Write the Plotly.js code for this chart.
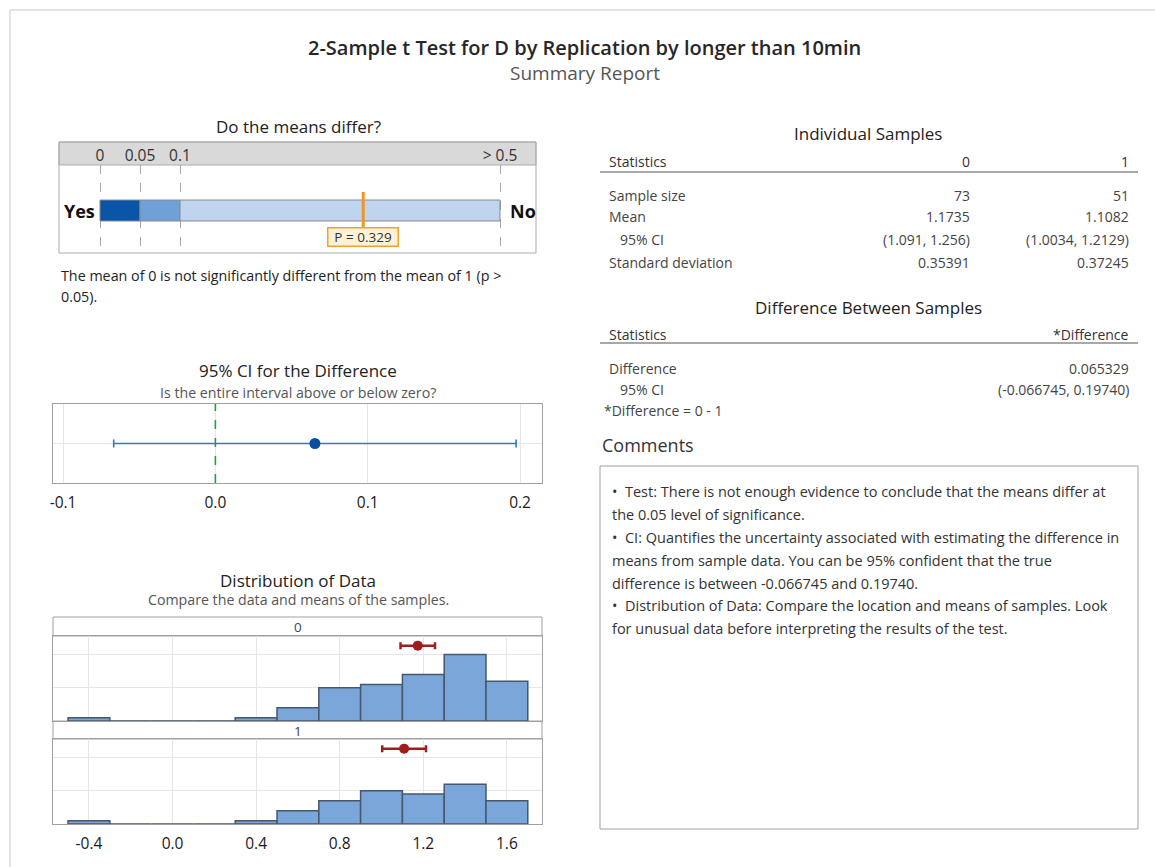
<!DOCTYPE html>
<html>
<head>
<meta charset="utf-8">
<script src="https://cdn.plot.ly/plotly-3.0.1.min.js"></script>
<style>html,body{margin:0;padding:0;background:#fff;}#chart{width:1155px;height:867px;}</style>
</head>
<body>
<div id="chart"></div>
<script>
// ---------------- data ----------------
const pBreaks = [0, 0.05, 0.1, 0.5];
const pTickLabels = ['0', '0.05', '0.1', '> 0.5'];
const pValue = 0.329;

const sampleNames = ['0', '1'];
const sampleSizes = [73, 51];
const sampleMeans = [1.1735, 1.1082];
const ciLower = [1.091, 1.0034];
const ciUpper = [1.256, 1.2129];
const stdDevs = [0.35391, 0.37245];

const meanDiff = 0.065329;
const diffCI = [-0.066745, 0.19740];
const nullDiff = 0;
const ciTicks = [-0.1, 0.0, 0.1, 0.2];

const binCenters = [-0.4, -0.2, 0.0, 0.2, 0.4, 0.6, 0.8, 1.0, 1.2, 1.4, 1.6];
const counts0 = [1, 0, 0, 0, 1, 4, 10, 11, 14, 20, 12];
const counts1 = [1, 0, 0, 0, 1, 4, 7, 10, 9, 12, 7];
const binWidth = 0.2;
const distTicks = [-0.4, 0.0, 0.4, 0.8, 1.2, 1.6];

// ---------------- helpers ----------------
const W = 1155, H = 867;
const X = v => v / W;
const Y = v => 1 - v / H;
const FONT = '"Open Sans", "Noto Sans", sans-serif';
const annotations = [];
function ann(text, x, y, o) {
  o = o || {};
  annotations.push({
    text: text, xref: 'paper', yref: 'paper', x: X(x), y: Y(y),
    xanchor: o.xa || 'center', yanchor: 'middle', showarrow: false,
    font: {family: FONT, size: o.size || 14, color: o.color || '#333', weight: o.weight || 400}
  });
}
const shapes = [];
function rect(x0, y0, x1, y1, line, fill, w) {
  shapes.push({type: 'rect', xref: 'paper', yref: 'paper', x0: X(x0), x1: X(x1), y0: Y(y1), y1: Y(y0),
    line: {color: line, width: w || 1}, fillcolor: fill || 'rgba(0,0,0,0)', layer: 'below'});
}
function hline(x0, x1, y, color, w) {
  shapes.push({type: 'line', xref: 'paper', yref: 'paper', x0: X(x0), x1: X(x1), y0: Y(y), y1: Y(y),
    line: {color: color, width: w || 1}});
}
function vline(x, y0, y1, color, w) {
  shapes.push({type: 'line', xref: 'paper', yref: 'paper', x0: X(x), x1: X(x), y0: Y(y0), y1: Y(y1),
    line: {color: color, width: w || 1}});
}

const T_TITLE = 17, T_SUB = 14.2, T_BODY = 14.3, T_TAB = 14;

// ---------------- titles ----------------
ann('2-Sample t Test for D by Replication by longer than 10min', 585, 47, {size: 20, color: '#262626', weight: 600});
ann('Summary Report', 585, 73, {size: 19, color: '#555'});

// outer faint border
hline(10, 1155, 10, '#E4E4E4', 2);
vline(10, 10, 867, '#E4E4E4', 2);

// ---------------- panel 1: do the means differ ----------------
ann('Do the means differ?', 298, 127, {size: T_TITLE, color: '#222'});
rect(59, 142, 536, 165, '#ABABAB', '#D9D9D9');
rect(59, 142, 536, 253, '#ABABAB');
ann('<b>Yes</b>', 97, 211, {size: 18, xa: 'right', color: '#111'});
ann('<b>No</b>', 508, 211, {size: 18, xa: 'left', color: '#111'});
ann('The mean of 0 is not significantly different from the mean of 1 (p &gt;', 59, 275, {xa: 'left', size: T_BODY, color: '#222'});
ann('0.05).', 59, 297, {xa: 'left', size: T_BODY, color: '#222'});

const pBar = {
  type: 'bar', orientation: 'h', xaxis: 'x', yaxis: 'y',
  y: pBreaks.slice(0, 3).map(() => 0),
  base: pBreaks.slice(0, 3),
  x: pBreaks.slice(1).map((v, i) => v - pBreaks[i]),
  width: 1,
  marker: {color: ['#0B55A8', '#6FA0D8', '#BED4EF'], line: {color: '#8A8A8A', width: 1}},
  hoverinfo: 'skip', showlegend: false
};
shapes.push({type: 'line', xref: 'x', yref: 'y', x0: pValue, x1: pValue, y0: -0.8, y1: 0.88,
  line: {color: '#F0961E', width: 3}});
annotations.push({
  text: 'P = ' + pValue.toFixed(3), xref: 'x', yref: 'paper', x: pValue, y: Y(236.5),
  xanchor: 'center', yanchor: 'middle', showarrow: false, width: 69, height: 17,
  bgcolor: '#FFF1D6', bordercolor: '#F0A030', borderwidth: 1.5, borderpad: 0,
  font: {family: FONT, size: 13.5, color: '#333'}
});

// ---------------- panel 2: CI for difference ----------------
ann('95% CI for the Difference', 298, 370, {size: T_TITLE, color: '#222'});
ann('Is the entire interval above or below zero?', 298, 392, {size: T_SUB, color: '#555'});

const ciTrace = {
  type: 'scatter', mode: 'markers', xaxis: 'x2', yaxis: 'y2',
  x: [meanDiff], y: [0],
  error_x: {type: 'data', symmetric: false, array: [diffCI[1] - meanDiff], arrayminus: [meanDiff - diffCI[0]],
    color: '#3477C5', thickness: 1.6, width: 4},
  marker: {size: 11, color: '#0A4EA3'}, hoverinfo: 'skip', showlegend: false
};
const nullTrace = {
  type: 'scatter', mode: 'lines', xaxis: 'x2', yaxis: 'y2',
  x: [nullDiff, nullDiff], y: [-1, 1],
  line: {color: '#1E9E46', width: 1.6, dash: 'dash'}, hoverinfo: 'skip', showlegend: false
};

// ---------------- panel 3: distribution ----------------
ann('Distribution of Data', 298, 580, {size: T_TITLE, color: '#222'});
ann('Compare the data and means of the samples.', 298, 599, {size: T_SUB, color: '#555'});
rect(53, 617, 542, 636, '#A0A0A0', '#FFFFFF');
rect(53, 721, 542, 739, '#A0A0A0', '#FFFFFF');
ann(sampleNames[0], 298, 627, {size: 13.5, color: '#444'});
ann(sampleNames[1], 298, 731, {size: 13.5, color: '#444'});

const meanMarkY = 22.7;
function histTrace(counts, ax, ay) {
  return {type: 'bar', xaxis: ax, yaxis: ay, x: binCenters, y: counts, width: binWidth,
    marker: {color: '#7BA6DA', line: {color: '#47576C', width: 1.5}}, hoverinfo: 'skip', showlegend: false};
}
function meanTrace(i, ax, ay) {
  return {type: 'scatter', mode: 'markers', xaxis: ax, yaxis: ay, x: [sampleMeans[i]], y: [meanMarkY],
    error_x: {type: 'data', symmetric: false, array: [ciUpper[i] - sampleMeans[i]], arrayminus: [sampleMeans[i] - ciLower[i]],
      color: '#A11C1C', thickness: 2.5, width: 3.5},
    marker: {size: 10, color: '#A11C1C'}, hoverinfo: 'skip', showlegend: false};
}

// ---------------- tables ----------------
const TC = '#444';
ann('Individual Samples', 868, 133, {size: T_TITLE, color: '#222'});
ann('Statistics', 607, 161, {xa: 'left', size: T_TAB, color: '#333'});
ann(sampleNames[0], 972, 161, {xa: 'right', size: T_TAB, color: '#333'});
ann(sampleNames[1], 1131, 161, {xa: 'right', size: T_TAB, color: '#333'});
hline(600, 1138, 172, '#A8A8A8', 2);
const rowLabels = ['Sample size', 'Mean', '&nbsp;&nbsp;&nbsp;95% CI', 'Standard deviation'];
const rowY = [195, 216, 239, 262];
const colX = [972, 1131];
rowLabels.forEach((t, r) => ann(t, 607, rowY[r], {xa: 'left', size: T_TAB, color: TC}));
for (let i = 0; i < 2; i++) {
  ann(String(sampleSizes[i]), colX[i], rowY[0], {xa: 'right', size: T_TAB, color: TC});
  ann(String(sampleMeans[i]), colX[i], rowY[1], {xa: 'right', size: T_TAB, color: TC});
  ann('(' + ciLower[i] + ', ' + ciUpper[i] + ')', colX[i], rowY[2], {xa: 'right', size: T_TAB, color: TC});
  ann(String(stdDevs[i]), colX[i], rowY[3], {xa: 'right', size: T_TAB, color: TC});
}
const diffHiTxt = diffCI[1].toFixed(5);
ann('Difference Between Samples', 868, 308, {size: T_TITLE, color: '#222'});
ann('Statistics', 607, 334, {xa: 'left', size: T_TAB, color: '#333'});
ann('*Difference', 1131, 334, {xa: 'right', size: T_TAB, color: '#333'});
hline(600, 1138, 343, '#A8A8A8', 2);
ann('Difference', 607, 368, {xa: 'left', size: T_TAB, color: TC});
ann(String(meanDiff), 1131, 368, {xa: 'right', size: T_TAB, color: TC});
ann('&nbsp;&nbsp;&nbsp;95% CI', 607, 389, {xa: 'left', size: T_TAB, color: TC});
ann('(' + diffCI[0] + ', ' + diffHiTxt + ')', 1131, 389, {xa: 'right', size: T_TAB, color: TC});
ann('*Difference = ' + sampleNames[0] + ' - ' + sampleNames[1], 602, 411, {xa: 'left', size: T_TAB, color: TC});

ann('Comments', 600, 445, {xa: 'left', size: 18, color: '#333'});
rect(600, 466, 1138, 829, '#A0A0A0');
const commentLines = [
  '•  Test: There is not enough evidence to conclude that the means differ at',
  'the 0.05 level of significance.',
  '•  CI: Quantifies the uncertainty associated with estimating the difference in',
  'means from sample data. You can be 95% confident that the true',
  'difference is between ' + diffCI[0] + ' and ' + diffHiTxt + '.',
  '•  Distribution of Data: Compare the location and means of samples. Look',
  'for unusual data before interpreting the results of the test.'
];
const commentY = [491, 514, 537, 560, 583, 605, 628];
commentLines.forEach((t, i) => ann(t, 610, commentY[i], {xa: 'left', size: 14.5, color: '#333'}));

// ---------------- layout ----------------
const gridC = '#E6E6E6', frameC = '#A0A0A0';
const distRange = [-0.572, 1.768];
const tickF = {family: FONT, size: 15.5, color: '#1A1A1A'};
const layout = {
  width: W, height: H, margin: {l: 0, r: 0, t: 0, b: 0},
  paper_bgcolor: '#FFFFFF', plot_bgcolor: 'rgba(0,0,0,0)',
  showlegend: false, bargap: 0,
  font: {family: FONT, color: '#333'},
  xaxis: {domain: [X(59), X(536)], range: [(59 - 100) / 800, (536 - 100) / 800], anchor: 'y', side: 'top',
    tickmode: 'array', tickvals: pBreaks, ticktext: pTickLabels, ticks: '', showline: false, zeroline: false,
    showgrid: true, gridcolor: '#A8A8A8', griddash: 'dash', gridwidth: 1,
    tickfont: {family: FONT, size: 15.5, color: '#333'}, ticklabelstandoff: 0, fixedrange: true},
  yaxis: {domain: [Y(253), Y(165)], range: [-2.024, 2.167], anchor: 'x', visible: false, fixedrange: true},

  xaxis2: {domain: [X(53), X(542)], range: [-0.1066, 0.2144], anchor: 'y2',
    tickmode: 'array', tickvals: ciTicks, ticktext: ciTicks.map(v => v.toFixed(1)), ticks: '',
    showgrid: true, gridcolor: gridC, zeroline: false, showline: true, mirror: true, linecolor: frameC,
    tickfont: tickF, ticklabelstandoff: 5, fixedrange: true},
  yaxis2: {domain: [Y(483), Y(404)], range: [-1, 1], anchor: 'x2', tickmode: 'array', tickvals: [0],
    showticklabels: false, ticks: '', showgrid: true, gridcolor: gridC, zeroline: false,
    showline: true, mirror: true, linecolor: frameC, fixedrange: true},

  xaxis3: {domain: [X(53), X(542)], range: distRange, anchor: 'y3', tickmode: 'array', tickvals: distTicks,
    showticklabels: false, ticks: '', showgrid: true, gridcolor: gridC, zeroline: false,
    showline: true, mirror: true, linecolor: frameC, fixedrange: true},
  yaxis3: {domain: [Y(721), Y(636)], range: [0, 25.6], anchor: 'x3', tickmode: 'array', tickvals: [10, 20],
    showticklabels: false, ticks: '', showgrid: true, gridcolor: gridC, zeroline: false,
    showline: true, mirror: true, linecolor: frameC, fixedrange: true},
  xaxis4: {domain: [X(53), X(542)], range: distRange, anchor: 'y4', tickmode: 'array', tickvals: distTicks,
    ticktext: distTicks.map(v => v.toFixed(1)), ticks: '', showgrid: true, gridcolor: gridC, zeroline: false,
    showline: true, mirror: true, linecolor: frameC,
    tickfont: tickF, ticklabelstandoff: 5, fixedrange: true},
  yaxis4: {domain: [Y(824), Y(739)], range: [0, 25.6], anchor: 'x4', tickmode: 'array', tickvals: [10, 20],
    showticklabels: false, ticks: '', showgrid: true, gridcolor: gridC, zeroline: false,
    showline: true, mirror: true, linecolor: frameC, fixedrange: true},

  shapes: shapes, annotations: annotations
};

const data = [
  pBar, nullTrace, ciTrace,
  histTrace(counts0, 'x3', 'y3'), meanTrace(0, 'x3', 'y3'),
  histTrace(counts1, 'x4', 'y4'), meanTrace(1, 'x4', 'y4')
];
Plotly.newPlot('chart', data, layout, {displayModeBar: false, staticPlot: true});
</script>
</body>
</html>
